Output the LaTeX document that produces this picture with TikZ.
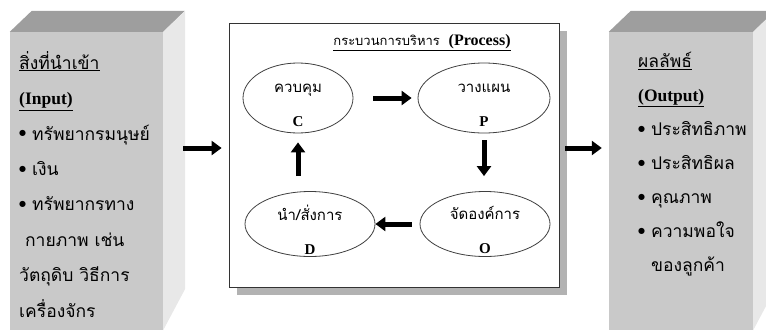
\documentclass[tikz,border=0pt]{standalone}
\usepackage{fontspec}
\setmainfont{Liberation Serif}
\newfontfamily\thai[Script=Thai]{Loma}
\newfontfamily\dejavu{DejaVu Sans}
\usetikzlibrary{arrows.meta,shapes.geometric,shadows}
\newcommand{\lat}[1]{{\rmfamily\bfseries #1}}
\newcommand{\bul}{\raisebox{0.45ex}{\dejavu\fontsize{8}{8}\selectfont ●}\ }

\begin{document}
\begin{tikzpicture}[x=1pt,y=-1pt]
\tikzstyle{front} = [rectangle, fill=black!21, inner sep=0pt]
\tikzstyle{boxtext} = [align=left, inner sep=0pt, font=\thai\fontsize{17.5}{35.4}\selectfont]
\tikzstyle{phase} = [ellipse, draw=black!75, thick, fill=white, minimum height=70pt, inner sep=0pt]
\tikzstyle{phasetext} = [align=center, inner sep=0pt, font=\thai\fontsize{15}{34}\selectfont]
\tikzstyle{fat} = [draw, line width=5pt, -{Triangle[length=10pt,width=14pt]}]
\useasboundingbox (0,0) rectangle (766,335);

% input block
\node [front, minimum width=153pt, minimum height=298pt] (input) at (86.5,181) {};
\fill [black!38] (input.north west) -- ++(22,-21) -- ++(153,0) -- (input.north east) -- cycle;
\fill [black!9] (input.north east) -- ++(22,-21) -- ++(0,278) -- (input.south east) -- cycle;
\node [boxtext, anchor=north west] (intext) at (19,51) {%
\underline{สิ่งที่นำเข้า}\\
\underline{\lat{(Input)}}\\
\bul ทรัพยากรมนุษย์\\
\bul เงิน\\
\bul ทรัพยากรทาง\\
\ กายภาพ เช่น\\
วัตถุดิบ วิธีการ\\
เครื่องจักร};

% output block
\node [front, minimum width=144pt, minimum height=298pt] (output) at (681,181) {};
\fill [black!38] (output.north west) -- ++(22,-21) -- ++(144,0) -- (output.north east) -- cycle;
\fill [black!9] (output.north east) -- ++(22,-21) -- ++(0,278) -- (output.south east) -- cycle;
\node [boxtext, anchor=north west, font=\thai\fontsize{17.5}{34}\selectfont] (outtext) at (638,52) {%
\underline{ผลลัพธ์}\\
\underline{\lat{(Output)}}\\
\bul ประสิทธิภาพ\\
\bul ประสิทธิผล\\
\bul คุณภาพ\\
\bul ความพอใจ\\
\phantom{\bul}ของลูกค้า};

% process block
\node [rectangle, draw=black!80, thick, fill=white, minimum width=330pt, minimum height=264pt,
  drop shadow={shadow xshift=8pt, shadow yshift=-8pt, opacity=1, fill=black!30}] (process) at (394,155) {};
\node [font=\thai\fontsize{13}{16}\selectfont] (title) at (422,43)
  {\underline{กระบวนการบริหาร\ \ {\fontsize{16}{16}\selectfont\lat{(Process)}}}};

\node [phase, minimum width=110pt] (ctrl) at (298,98) {};
\node [phase, minimum width=132pt] (plan) at (484,98) {};
\node [phase, minimum width=130pt, minimum height=65pt] (orga) at (485,224) {};
\node [phase, minimum width=130pt, minimum height=65pt] (lead) at (310,224) {};
\node [phasetext] (ctrltext) at ([yshift=-7pt]ctrl.center) {ควบคุม\\\lat{C}};
\node [phasetext] (plantext) at ([yshift=-7pt]plan.center) {วางแผน\\\lat{P}};
\node [phasetext] (orgatext) at ([yshift=-6pt]orga.center) {จัดองค์การ\\\lat{O}};
\node [phasetext] (leadtext) at ([yshift=-6pt]lead.center) {นำ/สั่งการ\\\lat{D}};

\coordinate (inarr) at (183,148);
\coordinate (outarr) at (565,148);
\tikzstyle{every path}=[fat]
\path [shorten >=7pt] (inarr) -- (process.west |- inarr);
\path [shorten >=7pt] (outarr) -- (output.west |- outarr);
\path [shorten <=20pt, shorten >=6pt] (ctrl.east) -- (plan.west);
\path [shorten <=7pt, shorten >=15pt] (plan.south) -- (plan.south |- orga.north);
\path [shorten <=8pt] (orga.west) -- (lead.east);
\path [shorten <=15pt, shorten >=9pt] (lead.north -| ctrl.south) -- (ctrl.south);
\end{tikzpicture}
\end{document}
